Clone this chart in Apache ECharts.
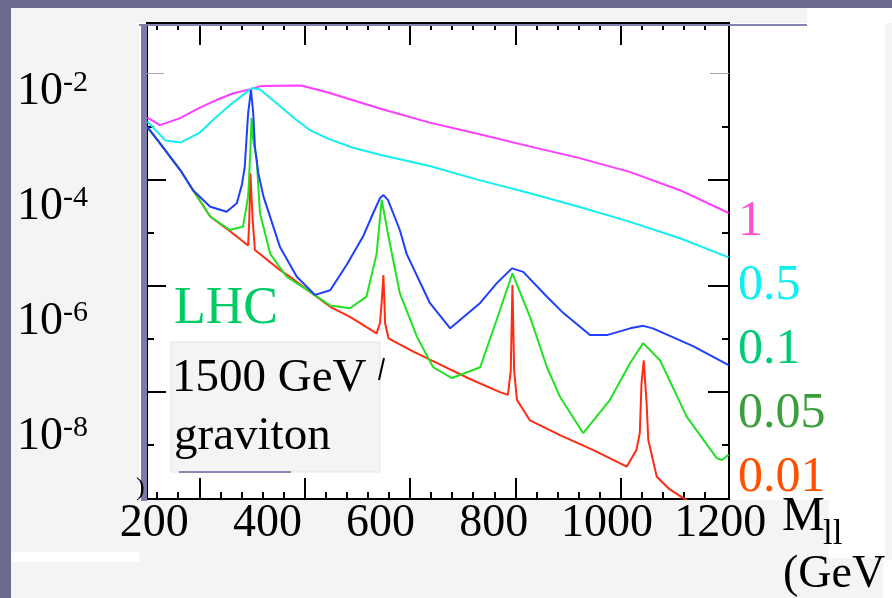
<!DOCTYPE html>
<html><head><meta charset="utf-8">
<script src="https://cdn.jsdelivr.net/npm/echarts@6/dist/echarts.min.js"></script>
<style>html,body{margin:0;padding:0;background:#fff}#c{width:892px;height:598px}</style>
</head><body><div id="c"></div>
<script>
// ---- data (x = M_ll read against the printed labels, y = cross-section) ----
const xTickLabels = [200, 400, 600, 800, 1000, 1200];
const yLabelExponents = [-2, -4, -6, -8];
const seriesNames = ['1', '0.5', '0.1', '0.05', '0.01'];

const magX = [188, 210, 245, 280, 310, 340, 370, 390, 460, 510, 600, 685, 775, 865, 950, 1040, 1130, 1215];
const magY = [3.5e-3, 2.6e-3, 3.4e-3, 5.2e-3, 7.1e-3, 9.3e-3, 1.1e-2, 1.25e-2, 1.27e-2, 9.4e-3, 5.0e-3, 2.9e-3, 1.8e-3, 1.1e-3, 7.0e-4, 4.0e-4, 1.9e-4, 7.7e-5];

const cyanX = [188, 220, 247, 280, 308, 341, 373, 387, 420, 448, 476, 508, 550, 597, 685, 773, 864, 952, 1041, 1129, 1215];
const cyanY = [3.0e-3, 1.4e-3, 1.3e-3, 1.9e-3, 3.5e-3, 6.6e-3, 1.15e-2, 1.08e-2, 5.8e-3, 3.4e-3, 2.1e-3, 1.5e-3, 1.06e-3, 8.0e-4, 5.1e-4, 2.9e-4, 1.7e-4, 9.8e-5, 5.4e-5, 2.8e-5, 1.3e-5];

const blueX = [188, 210, 246, 269, 299, 328, 346, 355, 360, 366, 371, 375, 378, 384, 393, 422, 452, 484, 511, 541, 569, 587, 599, 605, 613, 634, 646, 687, 723, 776, 805, 832, 852, 894, 923, 970, 1000, 1041, 1064, 1081, 1153, 1215];
const blueY = [2.4e-3, 1.26e-3, 4.3e-4, 1.9e-4, 9.9e-5, 8.1e-5, 1.14e-4, 2.4e-4, 4.9e-4, 4.2e-3, 1.06e-2, 4.2e-3, 1.1e-3, 3.8e-4, 1.5e-4, 2.0e-5, 6.0e-6, 2.9e-6, 3.5e-6, 1.0e-5, 3.0e-5, 7.7e-5, 1.4e-4, 1.58e-4, 1.3e-4, 3.9e-5, 1.5e-5, 2.1e-6, 7.6e-7, 2.1e-6, 4.6e-6, 8.4e-6, 7.3e-6, 2.7e-6, 1.4e-6, 5.8e-7, 5.8e-7, 7.6e-7, 8.4e-7, 7.6e-7, 3.7e-7, 1.75e-7];

const greenX = [188, 210, 246, 269, 299, 334, 357, 366, 370, 372, 375, 381, 387, 405, 434, 475, 511, 546, 575, 593, 602, 614, 634, 664, 693, 726, 776, 805, 833, 864, 894, 917, 958, 1005, 1041, 1064, 1094, 1141, 1194, 1203, 1215];
const greenY = [2.4e-3, 1.26e-3, 4.3e-4, 1.9e-4, 6.7e-5, 3.9e-5, 4.5e-5, 1.5e-4, 9.6e-4, 3.5e-3, 1.44e-3, 6.5e-4, 7.6e-5, 1.5e-5, 6.0e-6, 3.3e-6, 1.9e-6, 1.7e-6, 2.7e-6, 1.5e-5, 1.3e-4, 3.0e-5, 3.1e-6, 5.5e-7, 1.6e-7, 1.04e-7, 1.6e-7, 1.06e-6, 6.9e-6, 1.2e-6, 1.6e-7, 4.9e-8, 1.14e-8, 4.3e-8, 1.9e-7, 4.2e-7, 2.1e-7, 2.2e-8, 4.2e-9, 3.9e-9, 4.8e-9];

const redX = [188, 210, 246, 269, 299, 334, 366, 368, 370, 374, 378, 422, 440, 475, 511, 546, 593, 599, 602, 605, 608, 614, 658, 699, 758, 811, 825, 830, 833, 836, 841, 864, 917, 976, 1035, 1052, 1058, 1061, 1065, 1070, 1073, 1088, 1111, 1135, 1164];
const redY = [2.4e-3, 1.26e-3, 4.3e-4, 1.9e-4, 6.7e-5, 3.7e-5, 2.1e-5, 5.8e-5, 3.8e-4, 5.8e-5, 1.75e-5, 7.9e-6, 6.0e-6, 3.3e-6, 1.8e-6, 1.2e-6, 6.2e-7, 9.4e-7, 2.2e-6, 6.4e-6, 9.3e-7, 5.1e-7, 3.0e-7, 1.9e-7, 1.0e-7, 5.9e-8, 5.3e-8, 1.4e-7, 4.3e-6, 1.4e-7, 4.3e-8, 1.9e-8, 1.06e-8, 5.8e-9, 3.0e-9, 5.8e-9, 1.15e-8, 8.4e-8, 2.1e-7, 3.8e-8, 8.7e-9, 2.0e-9, 1.2e-9, 8.5e-10, 5.3e-10];

// ---- styling / layout ----
const FONT = '"Liberation Serif", "Times New Roman", serif';
const lineColors = {'1': '#ff3cff', '0.5': '#14eeee', '0.1': '#1f3fff', '0.05': '#22e022', '0.01': '#ff2b12'};
const labelColors = {'1': '#ff50d8', '0.5': '#10f0f0', '0.1': '#00cc77', '0.05': '#3c9e3c', '0.01': '#ff5000'};

// value range of the printed labels and of the frame ticks
const X_MIN = 187.3, X_MAX = 1215.6;
const Y_EXP_MIN = -9.087, Y_EXP_MAX = -0.809;
const TX_MIN = 100.7, TX_MAX = 1205.6;
const TY_MIN = -10.03, TY_MAX = -1.05;

const xMajorTicks = [], xMinorTicks = [];
for (let v = 120; v < 1200; v += 40) { (v % 200 === 0 ? xMajorTicks : xMinorTicks).push(v); }

function zip(xs, ys) { return xs.map((x, i) => [x, ys[i]]); }

const seriesData = {'1': zip(magX, magY), '0.5': zip(cyanX, cyanY), '0.1': zip(blueX, blueY), '0.05': zip(greenX, greenY), '0.01': zip(redX, redY)};
const drawOrder = ['1', '0.5', '0.01', '0.05', '0.1'];

function tickXAxis(pos, vals, len) {
  return {type: 'value', position: pos, min: TX_MIN, max: TX_MAX,
    axisLine: {show: true, onZero: false, lineStyle: {color: '#000', width: 2}},
    axisTick: {show: true, inside: true, length: len, customValues: vals, lineStyle: {color: '#000', width: 2}},
    axisLabel: {show: false}, splitLine: {show: false}};
}
function tickYAxis(pos, vals, len, color, width) {
  return {type: 'value', position: pos, min: TY_MIN, max: TY_MAX,
    axisLine: {show: true, onZero: false, lineStyle: {color: '#000', width: 2}},
    axisTick: {show: true, inside: true, length: len, customValues: vals, lineStyle: {color: color, width: width}},
    axisLabel: {show: false}, splitLine: {show: false}};
}

const chart = echarts.init(document.getElementById('c'), null, {renderer: 'canvas'});
chart.setOption({
  animation: false,
  backgroundColor: '#ffffff',
  grid: {left: 147, top: 23, width: 582, height: 476, containLabel: false, outerBoundsMode: 'none'},
  legend: {
    orient: 'vertical', left: 728, top: 192, itemWidth: 0, itemHeight: 50, itemGap: 14,
    icon: 'rect', itemStyle: {opacity: 0}, lineStyle: {opacity: 0}, selectedMode: false,
    textStyle: {fontFamily: FONT, fontSize: 50, lineHeight: 50, padding: 0},
    data: seriesNames.map(n => ({name: n, textStyle: {color: labelColors[n]}}))
  },
  xAxis: [
    {type: 'value', position: 'bottom', min: X_MIN, max: X_MAX,
     axisLine: {show: false}, axisTick: {show: false}, splitLine: {show: false},
     axisLabel: {show: true, customValues: xTickLabels, margin: 2, color: '#000', fontFamily: FONT, fontSize: 46,
       formatter: v => String(Math.round(v))}},
    tickXAxis('bottom', xMajorTicks, 21),
    tickXAxis('bottom', xMinorTicks, 7),
    tickXAxis('top', xMajorTicks, 22),
    tickXAxis('top', xMinorTicks, 7)
  ],
  yAxis: [
    {type: 'log', logBase: 10, min: Math.pow(10, Y_EXP_MIN), max: Math.pow(10, Y_EXP_MAX),
     axisLine: {show: false}, axisTick: {show: false}, axisLabel: {show: false}, splitLine: {show: false}},
    {type: 'value', position: 'left', min: Y_EXP_MIN, max: Y_EXP_MAX,
     axisLine: {show: false}, axisTick: {show: false}, splitLine: {show: false},
     axisLabel: {show: true, customValues: yLabelExponents, margin: 59, color: '#000',
       formatter: v => '{b|10}{s|' + Math.round(v) + '}',
       rich: {b: {fontFamily: FONT, fontSize: 46, lineHeight: 46, color: '#000'},
              s: {fontFamily: FONT, fontSize: 30, lineHeight: 30, verticalAlign: 'top', color: '#000'}}}},
    tickYAxis('left', [-9, -7, -5, -3], 7, '#000', 2),
    tickYAxis('left', [-8, -6, -4], 19, '#000', 2),
    tickYAxis('left', [-2], 17, '#a8a8a8', 1),
    tickYAxis('right', [-9, -7, -5, -3], 7, '#000', 2),
    tickYAxis('right', [-8, -6, -4], 21, '#000', 2),
    tickYAxis('right', [-2], 19, '#a8a8a8', 1)
  ],
  series: drawOrder.map(n => ({
    name: n, type: 'line', xAxisIndex: 0, yAxisIndex: 0, data: seriesData[n],
    showSymbol: false, symbol: 'none', clip: true, smooth: false,
    color: lineColors[n], lineStyle: {color: lineColors[n], width: 2}
  })),
  graphic: {elements: [
    // slide background panels
    {type: 'rect', z: -100, shape: {x: 0, y: 0, width: 892, height: 8}, style: {fill: '#6b6b8f'}},
    {type: 'rect', z: -100, shape: {x: 0, y: 0, width: 11, height: 598}, style: {fill: '#6b6b8f'}},
    {type: 'rect', z: -100, shape: {x: 11, y: 8, width: 128, height: 544}, style: {fill: '#f4f4f4'}},
    {type: 'rect', z: -100, shape: {x: 11, y: 562, width: 128, height: 36}, style: {fill: '#f4f4f4'}},
    {type: 'rect', z: -100, shape: {x: 139, y: 8, width: 668, height: 15}, style: {fill: '#f4f4f4'}},
    {type: 'rect', z: -100, shape: {x: 139, y: 500, width: 690, height: 98}, style: {fill: '#f4f4f4'}},
    {type: 'rect', z: -100, shape: {x: 829, y: 558, width: 54, height: 40}, style: {fill: '#f4f4f4'}},
    {type: 'rect', z: -100, shape: {x: 885, y: 23, width: 7, height: 537}, style: {fill: '#f4f4f4'}},
    // frame decorations
    {type: 'rect', z: 100, shape: {x: 139, y: 24, width: 668, height: 2}, style: {fill: '#8484b4'}},
    {type: 'rect', z: 100, shape: {x: 141, y: 24, width: 6, height: 477}, style: {fill: '#7b7bab'}},
    // LHC annotation
    {type: 'text', z: 100, x: 174, y: 309, style: {text: 'LHC', fill: '#00cc66', font: '52px ' + FONT, textAlign: 'left', textVerticalAlign: 'middle'}},
    {type: 'rect', z: 100, shape: {x: 171, y: 342, width: 209, height: 130}, style: {fill: '#f4f4f4', stroke: '#e6e6e6', lineWidth: 1}},
    {type: 'rect', z: 100, shape: {x: 179, y: 471, width: 112, height: 2}, style: {fill: '#8888b8'}},
    {type: 'text', z: 101, x: 172, y: 379, style: {text: '1500 GeV', fill: '#000', font: '47px ' + FONT, textAlign: 'left', textVerticalAlign: 'middle'}},
    {type: 'text', z: 101, x: 174, y: 437, style: {text: 'graviton', fill: '#000', font: '47px ' + FONT, textAlign: 'left', textVerticalAlign: 'middle'}},
    {type: 'line', z: 100, shape: {x1: 384, y1: 358, x2: 379, y2: 380}, style: {stroke: '#000', lineWidth: 2}},
    {type: 'text', z: 101, x: 136, y: 488, style: {text: ')', fill: '#000', font: '26px ' + FONT, textAlign: 'left', textVerticalAlign: 'middle'}},
    // axis title
    {type: 'text', z: 100, x: 782, y: 517, style: {text: 'M', fill: '#000', font: '48px ' + FONT, textAlign: 'left', textVerticalAlign: 'middle'}},
    {type: 'text', z: 100, x: 823, y: 535, style: {text: 'll', fill: '#000', font: '35px ' + FONT, textAlign: 'left', textVerticalAlign: 'middle'}},
    {type: 'text', z: 100, x: 783, y: 575, style: {text: '(GeV', fill: '#000', font: '46px ' + FONT, textAlign: 'left', textVerticalAlign: 'middle'}}
  ]}
});
</script>
</body></html>
